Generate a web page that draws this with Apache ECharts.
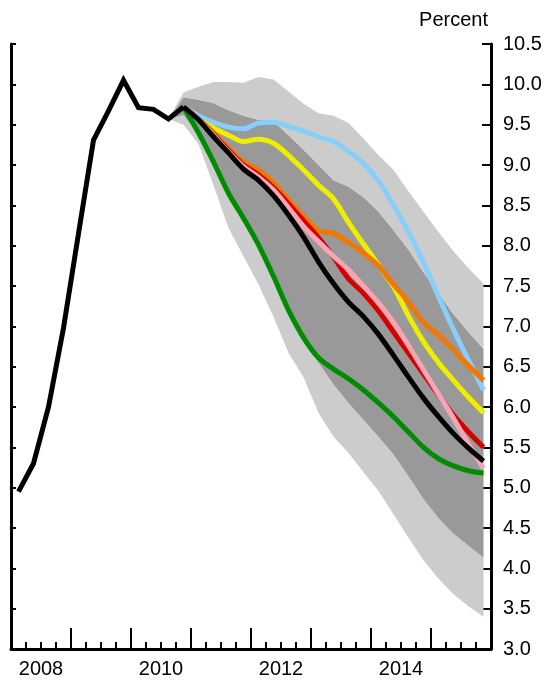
<!DOCTYPE html>
<html><head><meta charset="utf-8">
<script src="https://cdn.jsdelivr.net/npm/echarts@6/dist/echarts.min.js"></script>
<style>html,body{margin:0;padding:0;background:#fff}#c{width:554px;height:688px}</style>
</head><body><div id="c"></div>
<script>
// Quarterly categories (points sit at quarter midpoints)
const quarters = ['2008Q1','2008Q2','2008Q3','2008Q4','2009Q1','2009Q2','2009Q3','2009Q4',
  '2010Q1','2010Q2','2010Q3','2010Q4','2011Q1','2011Q2','2011Q3','2011Q4',
  '2012Q1','2012Q2','2012Q3','2012Q4','2013Q1','2013Q2','2013Q3','2013Q4',
  '2014Q1','2014Q2','2014Q3','2014Q4','2015Q1','2015Q2','2015Q3','2015Q4'];
const yearLabels = ['2008','2010','2012','2014'];
const yTickMin = 3.0, yTickMax = 10.5, yTickStep = 0.5;

// History 2008Q1..2010Q4
const history = [4.95, 5.30, 6.00, 6.98, 8.15, 9.31, 9.67, 10.05, 9.71, 9.69, 9.57, 9.72];

// Projections 2010Q4..2015Q4
const baseline = [9.72, 9.56, 9.35, 9.15, 8.95, 8.81, 8.62, 8.38, 8.11, 7.80, 7.53, 7.30, 7.12, 6.90, 6.64, 6.37, 6.11, 5.88, 5.67, 5.49, 5.33];
const blueLine = [9.72, 9.61, 9.53, 9.47, 9.45, 9.52, 9.53, 9.48, 9.42, 9.35, 9.29, 9.17, 9.02, 8.80, 8.50, 8.17, 7.79, 7.37, 6.96, 6.58, 6.21];
const yellowLine = [9.72, 9.57, 9.46, 9.37, 9.29, 9.32, 9.27, 9.12, 8.94, 8.75, 8.58, 8.29, 8.02, 7.76, 7.49, 7.13, 6.81, 6.55, 6.33, 6.12, 5.93];
const orangeLine = [9.72, 9.57, 9.40, 9.21, 9.04, 8.94, 8.78, 8.57, 8.37, 8.19, 8.15, 8.04, 7.91, 7.75, 7.52, 7.30, 7.05, 6.89, 6.71, 6.51, 6.33];
const redLine = [9.72, 9.57, 9.38, 9.18, 9.00, 8.88, 8.72, 8.52, 8.31, 8.10, 7.86, 7.59, 7.41, 7.19, 6.93, 6.67, 6.41, 6.15, 5.90, 5.69, 5.50];
const pinkLine = [9.72, 9.57, 9.37, 9.16, 8.98, 8.85, 8.69, 8.47, 8.24, 8.05, 7.87, 7.70, 7.50, 7.29, 7.05, 6.76, 6.46, 6.16, 5.86, 5.54, 5.24];
const greenLine = [9.72, 9.40, 9.04, 8.65, 8.34, 8.01, 7.62, 7.20, 6.86, 6.61, 6.47, 6.35, 6.21, 6.05, 5.88, 5.69, 5.50, 5.36, 5.27, 5.21, 5.18];

// Confidence bands 2010Q3..2015Q4
const lightUpper = [9.57, 9.90, 9.97, 10.03, 10.03, 10.02, 10.09, 10.06, 9.91, 9.76, 9.64, 9.61, 9.52, 9.33, 9.12, 8.94, 8.67, 8.42, 8.17, 7.93, 7.72, 7.53];
const darkUpper  = [9.57, 9.84, 9.81, 9.77, 9.68, 9.61, 9.56, 9.54, 9.37, 9.19, 9.00, 8.81, 8.73, 8.60, 8.42, 8.19, 7.95, 7.67, 7.41, 7.15, 6.93, 6.72];
const darkLower  = [9.57, 9.62, 9.37, 9.01, 8.62, 8.31, 7.98, 7.60, 7.17, 6.83, 6.55, 6.28, 6.05, 5.84, 5.63, 5.41, 5.14, 4.86, 4.62, 4.43, 4.28, 4.13];
const lightLower = [9.57, 9.50, 9.26, 8.75, 8.22, 7.87, 7.52, 7.12, 6.67, 6.37, 5.93, 5.63, 5.43, 5.19, 4.96, 4.67, 4.38, 4.10, 3.87, 3.68, 3.53, 3.40];

const bandStart = quarters.indexOf('2010Q3');
const projStart = quarters.indexOf('2010Q4');
const pad = (start, arr) => new Array(start).fill('-').concat(arr);
const diff = (a, b) => a.map((v, i) => +(v - b[i]).toFixed(4));

const FONT = 'Liberation Sans, Arial, sans-serif';
const chart = echarts.init(document.getElementById('c'), null, {renderer: 'canvas'});

function bandSeries(data, color) {
  const s = {type: 'line', stack: 'band', xAxisIndex: 2, yAxisIndex: 0,
    data: data, symbol: 'none', silent: true, connectNulls: false,
    lineStyle: {opacity: 0, width: 0}, z: 1};
  if (color) s.areaStyle = {color: color, opacity: 1};
  return s;
}
function lineSeries(data, color, z, smooth) {
  return {type: 'line', xAxisIndex: 2, yAxisIndex: 0, data: data, symbol: 'none',
    silent: true, smooth: smooth,
    lineStyle: {color: color, width: 5, cap: 'butt', join: 'miter'}, z: z};
}

chart.setOption({
  animation: false,
  title: {text: 'Percent', right: 61, top: 5,
    textStyle: {fontFamily: FONT, fontSize: 20, fontWeight: 'normal', color: '#000'}},
  grid: {left: 11, right: 63, top: 44, bottom: 39},
  xAxis: [
    {type: 'value', min: 0, max: quarters.length, interval: 1, position: 'bottom',
      axisLine: {show: true, onZero: false, lineStyle: {color: '#000', width: 3}},
      axisTick: {show: true, inside: true, length: 7, lineStyle: {color: '#000', width: 2}},
      splitLine: {show: false},
      axisLabel: {show: true, margin: 10, fontFamily: FONT, fontSize: 20, color: '#000',
        showMinLabel: true, showMaxLabel: true,
        formatter: function (v) {
          const i = Math.round(v) - 2;
          if (i >= 0 && i % 8 === 0 && yearLabels[i / 8]) return yearLabels[i / 8];
          return '';
        }}},
    {type: 'value', min: 0, max: quarters.length, interval: 4, position: 'bottom',
      axisLine: {show: false},
      axisTick: {show: true, inside: true, length: 21, lineStyle: {color: '#000', width: 2}},
      splitLine: {show: false}, axisLabel: {show: false}},
    {type: 'category', data: quarters, boundaryGap: true, position: 'bottom', show: false}
  ],
  yAxis: [
    {type: 'value', position: 'right', min: yTickMin, max: yTickMax, interval: yTickStep,
      axisLine: {show: true, onZero: false, lineStyle: {color: '#000', width: 3}},
      axisTick: {show: true, inside: true, length: 9, lineStyle: {color: '#000', width: 2}},
      splitLine: {show: false},
      axisLabel: {margin: 12, fontFamily: FONT, fontSize: 20, color: '#000',
        formatter: v => v.toFixed(1)}},
    {type: 'value', position: 'left', min: yTickMin, max: yTickMax, interval: yTickStep,
      axisLine: {show: true, onZero: false, lineStyle: {color: '#000', width: 3}},
      axisTick: {show: true, inside: true, length: 5, lineStyle: {color: '#000', width: 2}},
      splitLine: {show: false}, axisLabel: {show: false}}
  ],
  series: [
    bandSeries(pad(bandStart, lightLower), null),
    bandSeries(pad(bandStart, diff(darkLower, lightLower)), '#cccccc'),
    bandSeries(pad(bandStart, diff(darkUpper, darkLower)), '#999999'),
    bandSeries(pad(bandStart, diff(lightUpper, darkUpper)), '#cccccc'),
    lineSeries(pad(projStart, blueLine), '#87cefa', 3, 0.3),
    lineSeries(pad(projStart, yellowLine), '#eeee00', 4, 0.3),
    lineSeries(pad(projStart, orangeLine), '#f07800', 5, 0.3),
    lineSeries(pad(projStart, redLine), '#d60000', 6, 0.3),
    lineSeries(pad(projStart, pinkLine), '#f4a6b4', 7, 0.3),
    lineSeries(pad(projStart, greenLine), '#008c00', 8, 0.3),
    lineSeries(pad(projStart, baseline), '#000000', 9, 0.3),
    lineSeries(history, '#000000', 10, false)
  ]
});
</script></body></html>
